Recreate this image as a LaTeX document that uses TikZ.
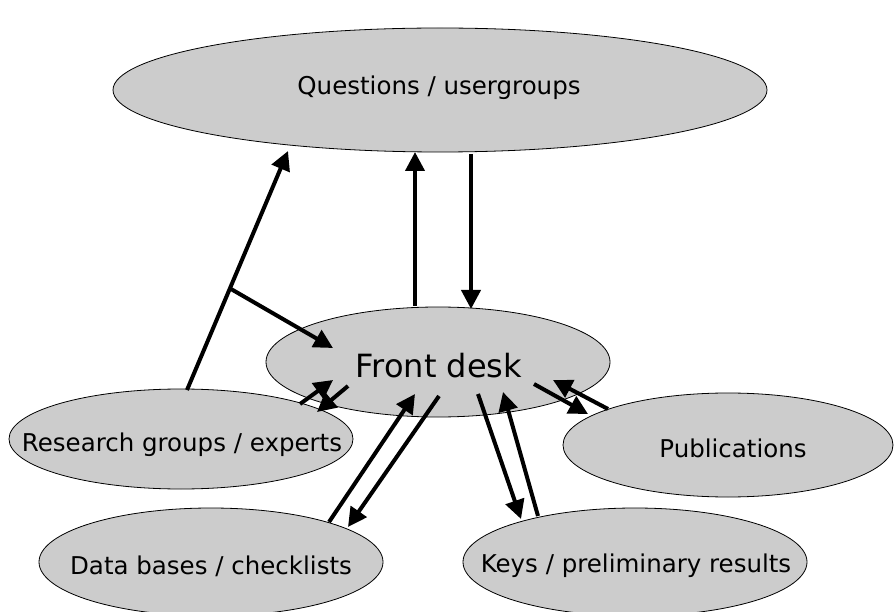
\documentclass[tikz,border=0pt]{standalone}
\usepackage{fontspec}
\setmainfont{DejaVu Sans}
\usetikzlibrary{arrows.meta,shapes.geometric}
\begin{document}
\begin{tikzpicture}[x=1pt,y=-1pt,
  oval/.style={ellipse,draw=black,line width=0.8pt,fill=black!20,inner sep=0pt},
  lbl/.style={inner sep=0pt,font=\fontsize{24.5}{28}\selectfont},
  conn/.style={line width=4pt,-{Triangle[length=19pt,width=19pt]}}]
\useasboundingbox (0,0) rectangle (894,612);
\node[oval,minimum width=654,minimum height=124] (q) at (440,90) {};
\node[lbl] (qt) at (439,88) {Questions / usergroups};
\node[oval,minimum width=344,minimum height=110] (fd) at (438,362) {};
\node[lbl,font=\fontsize{32}{36}\selectfont] (fdt) at (439,366) {Front desk};
\node[oval,minimum width=344,minimum height=100] (rg) at (181,439) {};
\node[lbl] (rgt) at (182,445) {Research groups / experts};
\node[oval,minimum width=330,minimum height=104] (pub) at (728,445) {};
\node[lbl] (pubt) at (733,448) {Publications};
\node[oval,minimum width=344,minimum height=108] (db) at (211,562) {};
\node[lbl] (dbt) at (211,566) {Data bases / checklists};
\node[oval,minimum width=344,minimum height=108] (keys) at (635,562) {};
\node[lbl] (keyst) at (636,566) {Keys / preliminary results};
% free ends
\coordinate (rgtop) at (187,390);
\coordinate (qtipA) at (288,151);
\coordinate (br) at (231,289);
\coordinate (fdtipA) at (333,348);
\coordinate (fdup) at (415,306);
\coordinate (qtipB) at (415,152);
\coordinate (qdown) at (471,154);
\coordinate (fdtipB) at (471,309);
\coordinate (rgA) at (300,404);
\coordinate (fdtipC) at (333,380);
\coordinate (fdC) at (348,386);
\coordinate (rgtipC) at (317,412);
\coordinate (dbA) at (329,522);
\coordinate (fdtipD) at (415,394);
\coordinate (fdD) at (439,396);
\coordinate (dbtipD) at (348,527);
\coordinate (fdE) at (478,394);
\coordinate (keystipE) at (521,519);
\coordinate (keysE) at (538,516);
\coordinate (fdtipE) at (503,392);
\coordinate (fdF) at (534,384);
\coordinate (pubtipF) at (588,414);
\coordinate (pubF) at (608,409);
\coordinate (fdtipF) at (553,380);
\draw[conn] (rgtop) -- (qtipA);
\draw[conn] (br) -- (fdtipA);
\draw[conn] (fdup) -- (qtipB);
\draw[conn] (qdown) -- (fdtipB);
\draw[conn] (rgA) -- (fdtipC);
\draw[conn] (fdC) -- (rgtipC);
\draw[conn] (dbA) -- (fdtipD);
\draw[conn] (fdD) -- (dbtipD);
\draw[conn] (fdE) -- (keystipE);
\draw[conn] (keysE) -- (fdtipE);
\draw[conn] (fdF) -- (pubtipF);
\draw[conn] (pubF) -- (fdtipF);
\end{tikzpicture}
\end{document}
